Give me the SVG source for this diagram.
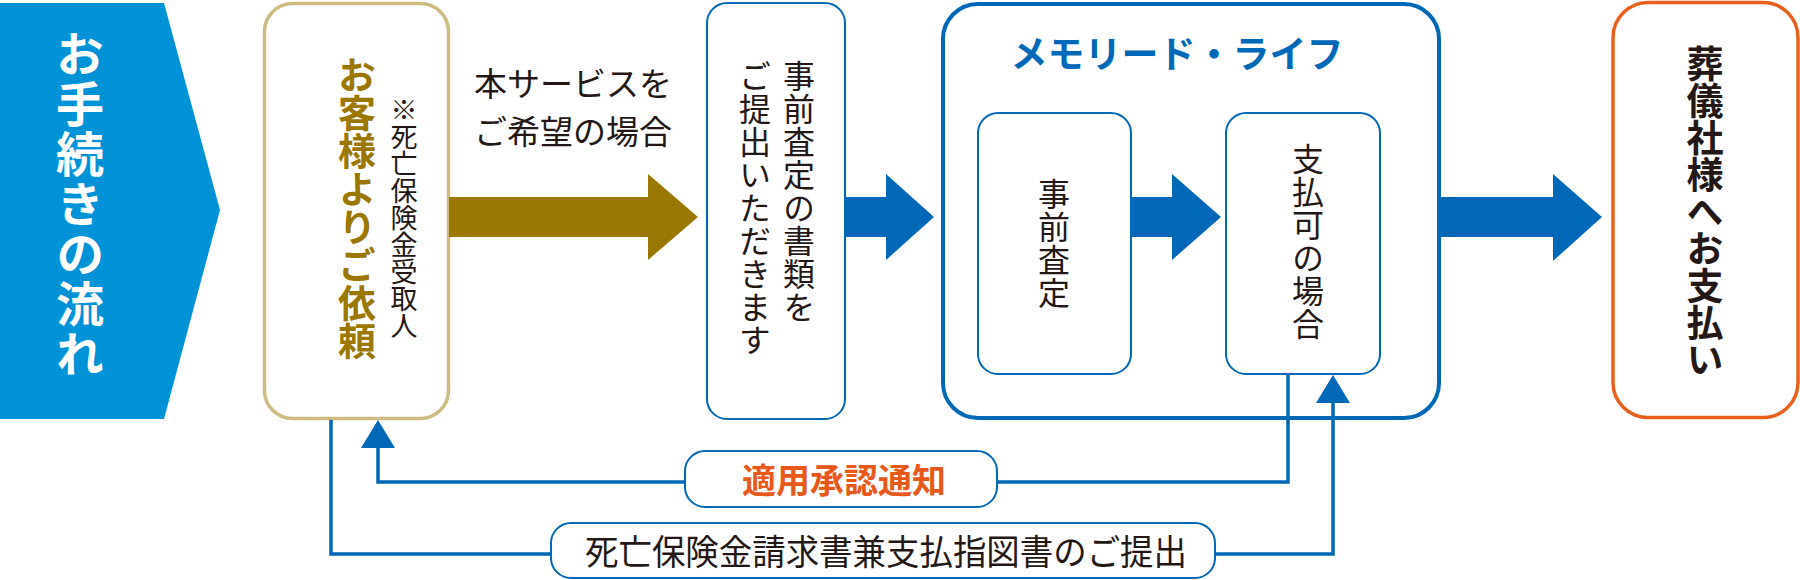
<svg xmlns="http://www.w3.org/2000/svg" width="1800" height="580" viewBox="0 0 1800 580">
  <style>
    .jp { font-family: "Noto Sans CJK JP", "Noto Sans", sans-serif; }
    .v { writing-mode: vertical-rl; }
    .reg { font-weight: 400; fill: #231815; }
    .bold { font-weight: 700; }
    .box { fill: #ffffff; }
    .blue-s { stroke: #0068b7; }
    .conn { fill: none; stroke: #0068b7; stroke-width: 3.5; }
    .blue-f { fill: #0068b7; }
  </style>
  <rect x="0" y="0" width="1800" height="580" fill="#ffffff"/>

  <g id="title">
    <polygon points="0,3 164,3 220,210 164,419 0,419" fill="#0092d6"/>
    <text class="jp v bold" x="80" y="30" font-size="48" letter-spacing="2" fill="#ffffff">お手続きの流れ</text>
  </g>

  <g id="customer">
    <rect x="264.5" y="3.5" width="184" height="415" rx="28" class="box" stroke="#cdbb80" stroke-width="3.5"/>
    <text class="jp v bold" x="357" y="56" font-size="38" fill="#9a7700">お客様よりご依頼</text>
    <text class="jp v reg" x="404" y="96" font-size="27">※死亡保険金受取人</text>
  </g>

  <g id="request-label">
    <text class="jp reg" x="573" y="96" font-size="33" text-anchor="middle">本サービスを</text>
    <text class="jp reg" x="573" y="144" font-size="33" text-anchor="middle">ご希望の場合</text>
  </g>

  <g id="documents">
    <rect x="707" y="3" width="138" height="416" rx="20" class="box blue-s" stroke-width="2"/>
    <text class="jp v reg" x="799" y="60" font-size="32" letter-spacing="1">事前査定の書類を</text>
    <text class="jp v reg" x="755" y="60" font-size="32" letter-spacing="1">ご提出いただきます</text>
  </g>

  <g id="memorylife">
    <rect x="943" y="4" width="496" height="414" rx="35" class="box blue-s" stroke-width="4"/>
    <text class="jp bold" x="1177" y="68" font-size="37" text-anchor="middle" fill="#0068b7">メモリード・ライフ</text>
  </g>

  <g id="prereview">
    <rect x="978" y="113" width="153" height="261" rx="20" class="box blue-s" stroke-width="2"/>
    <text class="jp v reg" x="1054" y="178" font-size="32" letter-spacing="1">事前査定</text>
  </g>

  <g id="payable">
    <rect x="1226" y="113" width="154" height="261" rx="20" class="box blue-s" stroke-width="2"/>
    <text class="jp v reg" x="1308" y="143" font-size="32" letter-spacing="1">支払可の場合</text>
  </g>

  <g id="funeral">
    <rect x="1613" y="2.5" width="185" height="415" rx="35" class="box" stroke="#e8601c" stroke-width="3.5"/>
    <text class="jp v bold" x="1705" y="45" font-size="37" fill="#231815">葬儀社様へお支払い</text>
  </g>

  <g id="connectors">
    <polygon points="449,197 648,197 648,174 698,217 648,260 648,237 449,237" fill="#9a7700"/>
    <polygon points="845,197 886,197 886,174 934,217 886,260 886,237 845,237" class="blue-f"/>
    <polygon points="1131,197 1172,197 1172,174 1221,217 1172,260 1172,237 1131,237" class="blue-f"/>
    <polygon points="1441,197 1553,197 1553,174 1602,217 1553,261 1553,237 1441,237" class="blue-f"/>

    <path class="conn" d="M1288,374 V482 H378 V446"/>
    <polygon points="361,448 378,420 395,448" class="blue-f"/>
    <path class="conn" d="M331,420 V554 H1333 V401"/>
    <polygon points="1316,403 1333,375 1350,403" class="blue-f"/>
  </g>

  <g id="approval-label">
    <rect x="685" y="451" width="312" height="56" rx="20" class="box blue-s" stroke-width="2"/>
    <text class="jp bold" x="844" y="493" font-size="34" text-anchor="middle" fill="#e8581a">適用承認通知</text>
  </g>

  <g id="claim-label">
    <rect x="551" y="523" width="664" height="55" rx="20" class="box blue-s" stroke-width="2"/>
    <text class="jp reg" x="585" y="565" font-size="35" textLength="602" lengthAdjust="spacingAndGlyphs">死亡保険金請求書兼支払指図書のご提出</text>
  </g>
</svg>
